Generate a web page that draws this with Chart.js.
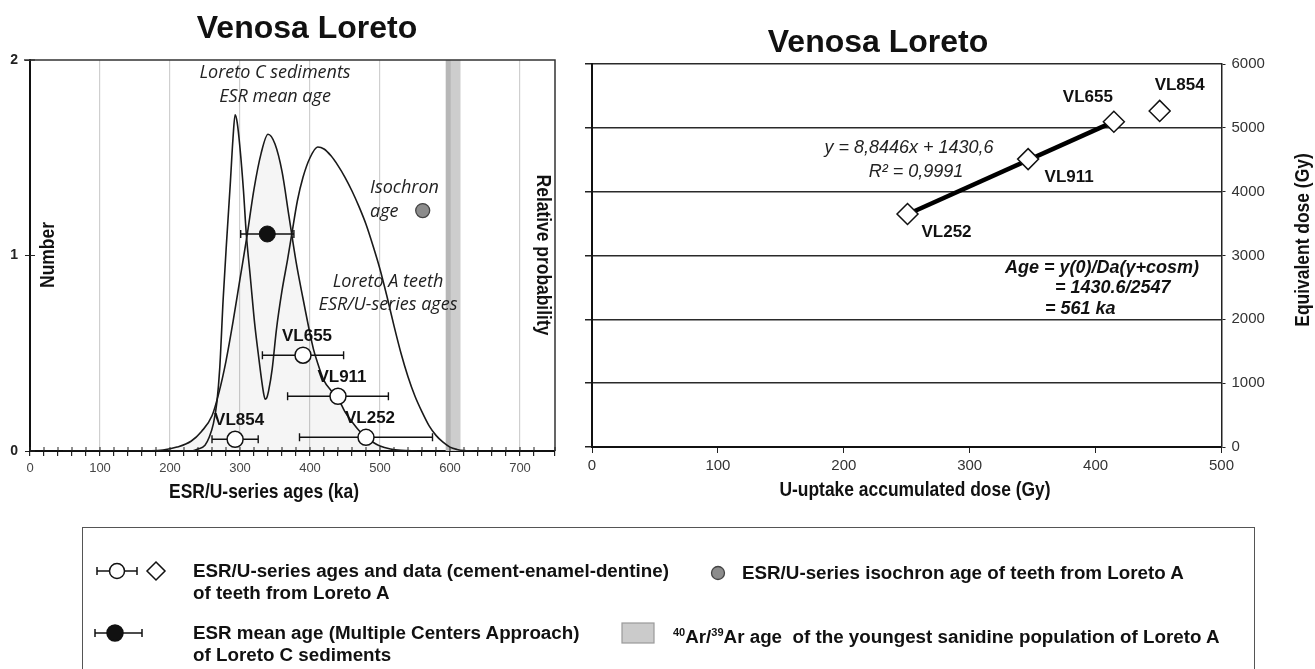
<!DOCTYPE html>
<html>
<head>
<meta charset="utf-8">
<script src="https://cdn.jsdelivr.net/npm/chart.js@4.4.1/dist/chart.umd.min.js"></script>
<style>
  html, body { margin: 0; padding: 0; background: #fff; width: 1315px; height: 669px; overflow: hidden;
    font-family: 'Liberation Sans', Arial, sans-serif; }
  #c1 { position: absolute; left: 0; top: 0; }
  #c2 { position: absolute; left: 580px; top: 0; }
  #legendBox { position: absolute; left: 82px; top: 527px; width: 1173px; height: 150px;
    border: 1.5px solid #555; box-sizing: border-box; }
  .lt { position: absolute; font-weight: bold; font-size: 18.8px; line-height: 22px; color: #111; white-space: nowrap; }
  .lt sup { font-size: 11px; line-height: 0; vertical-align: 7px; }
  #legendMarks { position: absolute; left: 0; top: 0; }
</style>
</head>
<body>
<canvas id="c1" width="580" height="520"></canvas>
<canvas id="c2" width="735" height="520"></canvas>

<div id="legendBox"></div>
<svg id="legendMarks" width="1315" height="669">
  <!-- ESR/U-series teeth: open circle with error bar, open diamond -->
  <g stroke="#111" stroke-width="1.5" fill="#fff">
    <line x1="97" y1="571" x2="137" y2="571"/>
    <line x1="97" y1="567" x2="97" y2="575"/>
    <line x1="137" y1="567" x2="137" y2="575"/>
    <circle cx="117" cy="571" r="7.5"/>
    <polygon points="156,562 165,571 156,580 147,571"/>
  </g>
  <!-- ESR mean age of sediments: filled circle with error bar -->
  <g stroke="#111" stroke-width="1.5">
    <line x1="95" y1="633" x2="142" y2="633"/>
    <line x1="95" y1="629" x2="95" y2="637"/>
    <line x1="142" y1="629" x2="142" y2="637"/>
    <circle cx="115" cy="633" r="8" fill="#111"/>
  </g>
  <!-- isochron age: grey dot -->
  <circle cx="718" cy="573" r="6.5" fill="#8c8c8c" stroke="#444" stroke-width="1.3"/>
  <!-- Ar/Ar age: grey box -->
  <rect x="622" y="623" width="32" height="20" fill="#cbcbcb" stroke="#9a9a9a" stroke-width="1.2"/>
</svg>
<div class="lt" style="left:193px; top:560px;">ESR/U-series ages and data (cement-enamel-dentine)<br>of teeth from Loreto A</div>
<div class="lt" style="left:742px; top:562px;">ESR/U-series isochron age of teeth from Loreto A</div>
<div class="lt" style="left:193px; top:622px;">ESR mean age (Multiple Centers Approach)<br>of Loreto C sediments</div>
<div class="lt" style="left:673px; top:626px;"><sup>40</sup>Ar/<sup>39</sup>Ar age&nbsp; of the youngest sanidine population of Loreto A</div>

<script>
// ---------------- Left panel: age distributions ----------------
const ageTicks = [0, 100, 200, 300, 400, 500, 600, 700];
const countTicks = [0, 1, 2];

// Relative probability of the Loreto A teeth ages (bimodal curve)
const teethCurveAge  = [200, 230, 240, 250, 256, 262, 267, 271, 276, 281, 286, 290, 293, 296, 300, 305, 309, 315, 321, 326, 331, 334, 336, 338, 341, 346, 352, 360, 368, 374, 382, 390, 400, 411, 420, 430, 440, 450, 460, 470, 480, 490, 500, 510, 520, 530, 540, 550, 560, 570, 580, 590, 600, 610, 620, 635];
const teethCurveProb = [0, 0, 0.01, 0.03, 0.07, 0.14, 0.25, 0.42, 0.78, 1.08, 1.36, 1.60, 1.72, 1.68, 1.55, 1.33, 1.11, 0.88, 0.65, 0.50, 0.36, 0.29, 0.265, 0.27, 0.31, 0.42, 0.62, 0.82, 0.98, 1.11, 1.28, 1.40, 1.50, 1.555, 1.545, 1.51, 1.46, 1.40, 1.33, 1.25, 1.16, 1.05, 0.93, 0.79, 0.64, 0.50, 0.38, 0.28, 0.20, 0.13, 0.08, 0.045, 0.02, 0.008, 0.002, 0];

// Number distribution of the Loreto C sediment ESR ages
const sedimentCurveAge    = [47, 150, 190, 210, 230, 245, 260, 270, 280, 290, 300, 310, 320, 330, 340, 350, 360, 370, 380, 390, 400, 405, 410, 420, 430, 440, 450, 460, 470, 480, 490, 500, 515, 530, 553];
const sedimentCurveNumber = [0, 0, 0.005, 0.02, 0.05, 0.10, 0.18, 0.30, 0.46, 0.66, 0.88, 1.10, 1.34, 1.52, 1.62, 1.57, 1.43, 1.20, 0.97, 0.78, 0.60, 0.52, 0.46, 0.36, 0.31, 0.27, 0.20, 0.15, 0.105, 0.07, 0.045, 0.025, 0.01, 0.003, 0];

// ESR/U-series ages of the individual teeth (ka, with 2-sigma errors)
const teethNames  = ['VL854', 'VL655', 'VL911', 'VL252'];
const teethAge    = [293, 390, 440, 480];
const teethAgeErr = [33, 58, 72, 95];
const teethRow    = [0.06, 0.49, 0.28, 0.07];

// ESR mean age of the sediments and isochron age of the teeth
const sedimentMeanAge = [339];
const sedimentMeanErr = [38];
const sedimentMeanRow = [1.11];
const isochronAge = [561];
const isochronRow = [1.23];

// 40Ar/39Ar age of the youngest sanidine population
const arArRange = [594, 615];
const arArCore  = [594, 601];

// ---------------- Right panel: isochron ----------------
const doseTicks = [0, 100, 200, 300, 400, 500];
const equivTicks = [0, 1000, 2000, 3000, 4000, 5000, 6000];
const doseNames = ['VL252', 'VL911', 'VL655', 'VL854'];
const uptakeDose = [250.6, 346.4, 414.5, 450.9];
const equivalentDose = [3650, 4510, 5095, 5265];
const fitSlope = 8.8446;
const fitIntercept = 1430.6;
const fitNames = ['VL252', 'VL911', 'VL655'];

// ---------------- helpers ----------------
const SANS = "'Liberation Sans', Arial, sans-serif";
const ITAL = "'Open Sans', 'Liberation Sans', sans-serif";

function txt(ctx, s, x, y, font, o = {}) {
  ctx.save();
  ctx.font = font;
  ctx.fillStyle = o.color || '#111';
  ctx.textAlign = o.align || 'center';
  ctx.textBaseline = 'middle';
  ctx.translate(x, y);
  if (o.rotate) ctx.rotate(o.rotate);
  if (o.sx) ctx.scale(o.sx, 1);
  ctx.fillText(s, 0, 0);
  ctx.restore();
}

// horizontal error bars drawn just beneath their markers
const errorBars = {
  id: 'errorBars',
  beforeDatasetDraw(chart, args) {
    const ds = chart.data.datasets[args.index];
    if (!ds.xErr) return;
    const { ctx } = chart, xs = chart.scales.x, ys = chart.scales.y;
    ctx.save();
    ctx.strokeStyle = '#111';
    ctx.lineWidth = 1.4;
    ds.data.forEach((p, i) => {
      const x0 = xs.getPixelForValue(p.x - ds.xErr[i]);
      const x1 = xs.getPixelForValue(p.x + ds.xErr[i]);
      const y = ys.getPixelForValue(p.y);
      ctx.beginPath();
      ctx.moveTo(x0, y); ctx.lineTo(x1, y);
      ctx.moveTo(x0, y - 4); ctx.lineTo(x0, y + 4);
      ctx.moveTo(x1, y - 4); ctx.lineTo(x1, y + 4);
      ctx.stroke();
    });
    ctx.restore();
  }
};

// ---------------- left chart ----------------
const leftDecor = {
  id: 'leftDecor',
  beforeDatasetsDraw(chart) {
    const { ctx, chartArea: a } = chart, xs = chart.scales.x;
    ctx.save();
    const b0 = xs.getPixelForValue(arArRange[0]), b1 = xs.getPixelForValue(arArRange[1]);
    ctx.fillStyle = '#cdcdcd';
    ctx.fillRect(b0, a.top, b1 - b0, a.bottom - a.top);
    const c0 = xs.getPixelForValue(arArCore[0]), c1 = xs.getPixelForValue(arArCore[1]);
    ctx.fillStyle = '#b7b7b7';
    ctx.fillRect(c0, a.top, c1 - c0, a.bottom - a.top);
    ctx.restore();
  },
  afterDraw(chart) {
    const { ctx, chartArea: a } = chart, xs = chart.scales.x, ys = chart.scales.y;
    ctx.save();
    // frame: top and right sides
    ctx.strokeStyle = '#333';
    ctx.lineWidth = 1.5;
    ctx.beginPath();
    ctx.moveTo(a.left - 6, a.top); ctx.lineTo(a.right, a.top); ctx.lineTo(a.right, a.bottom);
    ctx.stroke();
    // inner halves of the tick marks
    ctx.strokeStyle = '#222';
    ctx.lineWidth = 1;
    ctx.beginPath();
    xs.ticks.forEach(t => {
      const x = xs.getPixelForValue(t.value);
      ctx.moveTo(x, a.bottom); ctx.lineTo(x, a.bottom - 4);
    });
    ys.ticks.forEach(t => {
      const y = ys.getPixelForValue(t.value);
      ctx.moveTo(a.left, y); ctx.lineTo(a.left + 5, y);
    });
    ctx.stroke();
    ctx.restore();

    txt(ctx, 'Venosa Loreto', 307, 29, `bold 32px ${SANS}`);
    txt(ctx, 'ESR/U-series ages (ka)', 264, 492, `bold 21px ${SANS}`, { sx: 0.83 });
    txt(ctx, 'Number', 48, 255, `bold 21px ${SANS}`, { sx: 0.83, rotate: -Math.PI / 2 });
    txt(ctx, 'Relative probability', 543, 255, `bold 21px ${SANS}`, { sx: 0.83, rotate: Math.PI / 2 });

    const it = `italic 18px ${ITAL}`;
    txt(ctx, 'Loreto C sediments', 275, 73, it, { color: '#222' });
    txt(ctx, 'ESR mean age', 275, 97, it, { color: '#222' });
    txt(ctx, 'Isochron', 370, 188, it, { color: '#222', align: 'left' });
    txt(ctx, 'age', 370, 212, it, { color: '#222', align: 'left' });
    txt(ctx, 'Loreto A teeth', 388, 282, it, { color: '#222' });
    txt(ctx, 'ESR/U-series ages', 388, 305, it, { color: '#222' });

    teethNames.forEach((n, i) => {
      txt(ctx, n, xs.getPixelForValue(teethAge[i]) + 4, ys.getPixelForValue(teethRow[i]) - 19, `bold 17px ${SANS}`);
    });
  }
};

new Chart(document.getElementById('c1'), {
  type: 'line',
  data: {
    datasets: [
      {
        type: 'scatter', label: 'teeth ages',
        data: teethAge.map((x, i) => ({ x, y: teethRow[i] })), xErr: teethAgeErr,
        pointRadius: 8, pointBackgroundColor: '#fff', pointBorderColor: '#111', pointBorderWidth: 1.5, order: 0
      },
      {
        type: 'scatter', label: 'sediment mean age',
        data: sedimentMeanAge.map((x, i) => ({ x, y: sedimentMeanRow[i] })), xErr: sedimentMeanErr,
        pointRadius: 8, pointBackgroundColor: '#111', pointBorderColor: '#111', pointBorderWidth: 1, order: 0
      },
      {
        type: 'scatter', label: 'isochron age',
        data: isochronAge.map((x, i) => ({ x, y: isochronRow[i] })),
        pointRadius: 7, pointBackgroundColor: '#8c8c8c', pointBorderColor: '#444', pointBorderWidth: 1.3, order: 0
      },
      {
        label: 'teeth probability',
        data: teethCurveAge.map((x, i) => ({ x, y: teethCurveProb[i] })),
        borderColor: '#1a1a1a', borderWidth: 1.6, pointRadius: 0, fill: false,
        cubicInterpolationMode: 'monotone', order: 5
      },
      {
        label: 'sediment number',
        data: sedimentCurveAge.map((x, i) => ({ x, y: sedimentCurveNumber[i] })),
        borderColor: '#1a1a1a', borderWidth: 1.6, pointRadius: 0, fill: 'origin',
        backgroundColor: 'rgba(0,0,0,0.04)', cubicInterpolationMode: 'monotone', order: 6
      }
    ]
  },
  options: {
    responsive: false, animation: false, events: [],
    layout: { padding: { top: 60, right: 25, left: 0, bottom: 0 } },
    plugins: { legend: { display: false }, tooltip: { enabled: false } },
    scales: {
      x: {
        type: 'linear', min: 0, max: 750,
        ticks: {
          stepSize: 20, autoSkip: false, maxRotation: 0, padding: 5,
          font: { size: 13, family: SANS }, color: '#444',
          callback: v => ageTicks.includes(v) ? String(v) : ''
        },
        grid: {
          color: c => (c.tick && ageTicks.includes(c.tick.value) && c.tick.value > 0) ? '#cfcfcf' : 'rgba(0,0,0,0)',
          lineWidth: 1.2, tickColor: '#222', tickLength: 5
        },
        border: { color: '#111', width: 2 },
        afterFit: s => { s.height = 69; }
      },
      y: {
        min: 0, max: 2,
        ticks: {
          stepSize: 1, padding: 7, font: { size: 14, weight: 'bold', family: SANS }, color: '#222',
          callback: v => countTicks.includes(v) ? String(v) : ''
        },
        grid: { drawOnChartArea: false, tickLength: 5, tickColor: '#222' },
        border: { color: '#111', width: 2 },
        afterFit: s => { s.width = 30; }
      }
    }
  },
  plugins: [leftDecor, errorBars]
});

// ---------------- right chart ----------------
const rightDecor = {
  id: 'rightDecor',
  afterDraw(chart) {
    const { ctx } = chart, xs = chart.scales.x, ys = chart.scales.y;
    txt(ctx, 'Venosa Loreto', 298, 43, `bold 32px ${SANS}`);
    txt(ctx, 'U-uptake accumulated dose (Gy)', 335, 490, `bold 21px ${SANS}`, { sx: 0.83 });
    txt(ctx, 'Equivalent dose (Gy)', 723, 240, `bold 21px ${SANS}`, { sx: 0.83, rotate: -Math.PI / 2 });

    txt(ctx, 'y = 8,8446x + 1430,6', 329, 148, `italic 18px ${SANS}`, { color: '#222' });
    txt(ctx, 'R\u00b2 = 0,9991', 336, 172, `italic 18px ${SANS}`, { color: '#222' });
    txt(ctx, 'Age = y(0)/Da(\u03b3+cosm)', 425, 268, `italic bold 18px ${SANS}`, { align: 'left' });
    txt(ctx, '= 1430.6/2547', 475, 288, `italic bold 18px ${SANS}`, { align: 'left' });
    txt(ctx, '= 561 ka', 465, 309, `italic bold 18px ${SANS}`, { align: 'left' });

    const off = { VL252: [39, 18], VL911: [41, 18], VL655: [-26, -24], VL854: [20, -26] };
    doseNames.forEach((n, i) => {
      const x = xs.getPixelForValue(uptakeDose[i]), y = ys.getPixelForValue(equivalentDose[i]);
      txt(ctx, n, x + off[n][0], y + off[n][1], `bold 17px ${SANS}`);
    });
  }
};

const fitX = fitNames.map(n => uptakeDose[doseNames.indexOf(n)]);
const fitLo = Math.min(...fitX), fitHi = Math.max(...fitX);

new Chart(document.getElementById('c2'), {
  type: 'scatter',
  data: {
    datasets: [
      {
        label: 'teeth doses',
        data: uptakeDose.map((x, i) => ({ x, y: equivalentDose[i] })),
        pointStyle: 'rectRot', pointRadius: 10.5,
        pointBackgroundColor: '#fff', pointBorderColor: '#111', pointBorderWidth: 1.5, order: 0
      },
      {
        type: 'line', label: 'linear fit',
        data: [fitLo, fitHi].map(x => ({ x, y: fitSlope * x + fitIntercept })),
        borderColor: '#000', borderWidth: 4.5, pointRadius: 0, order: 1
      }
    ]
  },
  options: {
    responsive: false, animation: false, events: [],
    layout: { padding: { top: 64, right: 0, left: 0, bottom: 0 } },
    plugins: { legend: { display: false }, tooltip: { enabled: false } },
    scales: {
      x: {
        type: 'linear', min: 0, max: 500,
        ticks: {
          stepSize: 100, maxRotation: 0, padding: 4, font: { size: 15, family: SANS }, color: '#333',
          callback: v => doseTicks.includes(v) ? String(v) : ''
        },
        grid: { drawOnChartArea: false, tickLength: 6, tickColor: '#222' },
        border: { color: '#111', width: 2 },
        afterFit: s => { s.height = 73; }
      },
      y: {
        position: 'left', min: 0, max: 6000,
        ticks: { display: false, stepSize: 1000 },
        grid: { color: '#2a2a2a', lineWidth: 1.5, tickLength: 7, tickColor: '#222' },
        border: { color: '#111', width: 2 },
        afterFit: s => { s.width = 9.5; }
      },
      y2: {
        position: 'right', min: 0, max: 6000,
        ticks: {
          stepSize: 1000, padding: 6, font: { size: 15, family: SANS }, color: '#333',
          callback: v => equivTicks.includes(v) ? String(v) : ''
        },
        grid: { drawOnChartArea: false, tickLength: 4, tickColor: '#222' },
        border: { color: '#222', width: 1.5 },
        afterFit: s => { s.width = 93.5; }
      }
    }
  },
  plugins: [rightDecor]
});
</script>
</body>
</html>
